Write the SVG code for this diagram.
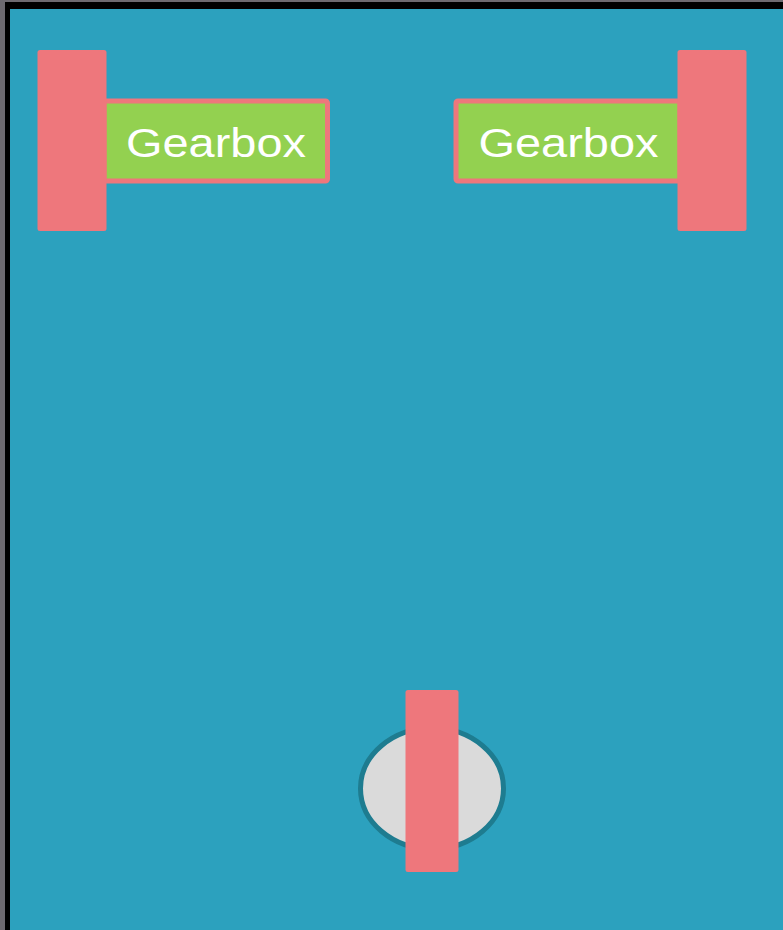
<svg xmlns="http://www.w3.org/2000/svg" width="783" height="930" viewBox="0 0 783 930">
  <style>
    .wheel { fill: #ee777c; }
    .gb { fill: #93d150; stroke: #ee777c; stroke-width: 5; }
    .lbl { font-family: "Liberation Sans", Arial, sans-serif; font-size: 41px; fill: #ffffff; text-anchor: middle; }
  </style>
  <rect x="0" y="0" width="783" height="930" fill="#6d6a70"/>
  <rect x="5" y="2" width="800" height="950" fill="#000000"/>
  <rect x="10" y="9" width="800" height="950" fill="#2ca1be"/>

  <g id="gearbox-left">
    <rect class="gb" x="104" y="101" width="223.5" height="80" rx="2"/>
    <text class="lbl" x="216" y="157" textLength="180" lengthAdjust="spacingAndGlyphs">Gearbox</text>
  </g>
  <g id="wheel-left">
    <rect class="wheel" x="37.5" y="50" width="69" height="181" rx="2.5"/>
  </g>

  <g id="gearbox-right">
    <rect class="gb" x="456" y="101" width="224" height="80" rx="2"/>
    <text class="lbl" x="568.5" y="157" textLength="180" lengthAdjust="spacingAndGlyphs">Gearbox</text>
  </g>
  <g id="wheel-right">
    <rect class="wheel" x="677.5" y="50" width="69" height="181" rx="2.5"/>
  </g>

  <g id="caster">
    <ellipse cx="432" cy="788.5" rx="71.5" ry="60.5" fill="#dadada" stroke="#1e7c90" stroke-width="5"/>
    <rect class="wheel" x="405.5" y="690" width="53" height="182" rx="2.5"/>
  </g>
  <g id="connectors"></g>
</svg>
